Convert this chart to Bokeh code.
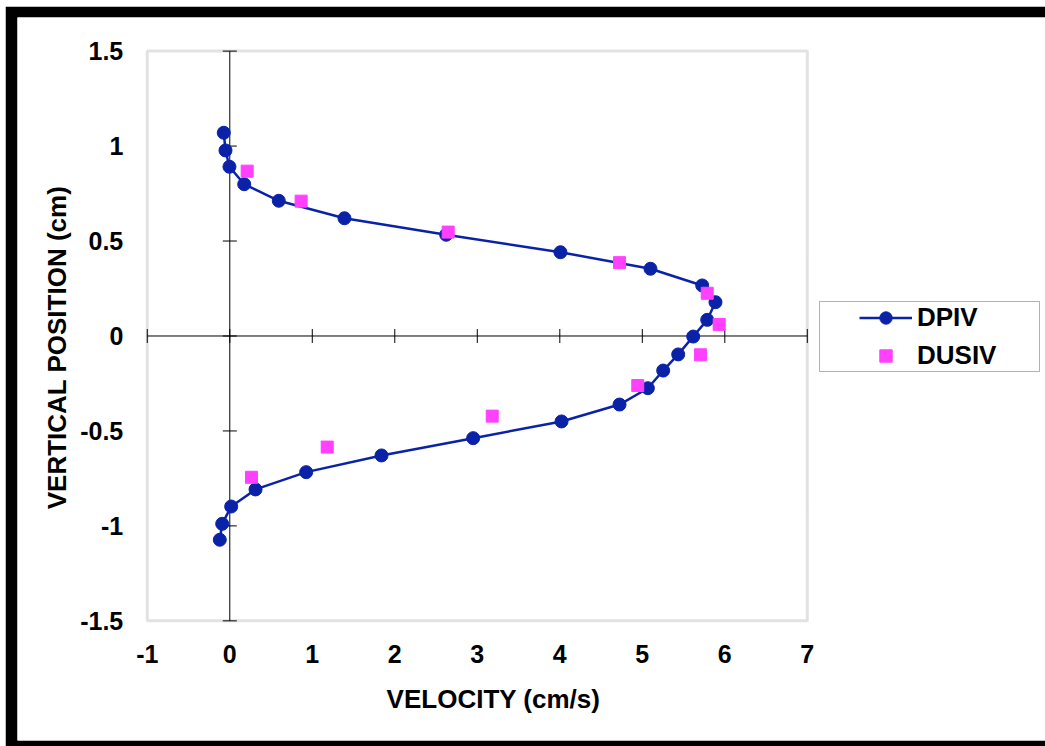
import math

from bokeh.embed import file_html
from bokeh.models import (BoxAnnotation, FixedTicker, Label, Legend, LegendItem,
                          LinearAxis, NumeralTickFormatter, Range1d)
from bokeh.plotting import figure
from bokeh.resources import INLINE

# Velocity profiles across the channel: (velocity cm/s, vertical position cm)
dpiv_velocity = [-0.073, -0.052, -0.004, 0.175, 0.594, 1.390, 2.623, 4.008, 5.099,
                 5.726, 5.887, 5.787, 5.617, 5.435, 5.253, 5.067, 4.724, 4.021,
                 2.950, 1.839, 0.926, 0.312, 0.017, -0.092, -0.121]
dpiv_position = [1.070, 0.977, 0.891, 0.799, 0.712, 0.620, 0.533, 0.441, 0.354,
                 0.266, 0.178, 0.085, -0.003, -0.097, -0.182, -0.275, -0.361,
                 -0.450, -0.538, -0.629, -0.717, -0.808, -0.898, -0.989, -1.073]

dusiv_velocity = [0.211, 0.865, 2.647, 4.724, 5.787, 5.932, 5.705, 4.945, 3.181,
                  1.181, 0.263]
dusiv_position = [0.868, 0.710, 0.547, 0.386, 0.225, 0.061, -0.099, -0.261, -0.422,
                  -0.585, -0.744]

x_ticks = [-1, 0, 1, 2, 3, 4, 5, 6, 7]
y_ticks = [-1.5, -1, -0.5, 0, 0.5, 1, 1.5]

FONT = "Liberation Sans"
BLUE = "#0A22A8"
PINK = "#FF40FF"
GRAY = "#A0A0A0"

# The frame fills the white page inside the heavy black border; the plot
# area (-1..7, -1.5..1.5) is outlined inside it.
p = figure(width=1040, height=740, margin=(6, 0, 0, 5),
           x_range=Range1d(-2.573, 9.887), y_range=Range1d(-2.130, 1.677),
           x_axis_location=None, y_axis_location=None,
           output_backend="svg", toolbar_location=None,
           min_border_left=12, min_border_right=0,
           min_border_top=11, min_border_bottom=6)

p.background_fill_color = "white"
p.border_fill_color = "black"
p.outline_line_color = None
p.grid.visible = False

# Plot-area outline
p.add_layout(BoxAnnotation(left=x_ticks[0], right=x_ticks[-1],
                           bottom=y_ticks[0], top=y_ticks[-1],
                           fill_alpha=0, line_color=GRAY, line_width=3,
                           level="underlay"))

# Tick labels along the left and bottom edges of the plot area
y_axis = LinearAxis(fixed_location=x_ticks[0], ticker=FixedTicker(ticks=y_ticks),
                    formatter=NumeralTickFormatter(format="0.[0]"))
x_axis = LinearAxis(fixed_location=y_ticks[0], ticker=FixedTicker(ticks=x_ticks),
                    formatter=NumeralTickFormatter(format="0"))
for ax in (x_axis, y_axis):
    ax.axis_line_color = None
    ax.major_tick_line_color = None
    ax.minor_tick_line_color = None
    ax.major_tick_out = 0
    ax.major_tick_in = 0
    ax.major_label_text_font = FONT
    ax.major_label_text_font_style = "bold"
    ax.major_label_text_font_size = "25px"
    ax.major_label_text_color = "black"
x_axis.major_label_standoff = 24
y_axis.major_label_standoff = 24
p.add_layout(y_axis, "left")
p.add_layout(x_axis, "below")

# Axes crossing at the origin, with tick marks across them
p.line(x=[x_ticks[0], x_ticks[-1]], y=[0, 0], line_color="black", line_width=1)
p.line(x=[0, 0], y=[y_ticks[0], y_ticks[-1]], line_color="black", line_width=1)
p.scatter(x=[0] * len(y_ticks), y=y_ticks, marker="dash", size=14,
          line_color="black", line_width=1)
p.scatter(x=x_ticks, y=[0] * len(x_ticks), marker="dash", size=14, angle=math.pi / 2,
          line_color="black", line_width=1)

line_r = p.line(dpiv_velocity, dpiv_position, line_color=BLUE, line_width=2.5)
dot_r = p.scatter(dpiv_velocity, dpiv_position, marker="circle", size=13,
                  fill_color=BLUE, line_color=BLUE)
sq_r = p.scatter(dusiv_velocity, dusiv_position, marker="square", size=12,
                 fill_color=PINK, line_color=PINK)

legend = Legend(items=[LegendItem(label="DPIV", renderers=[line_r, dot_r]),
                       LegendItem(label="DUSIV", renderers=[sq_r])],
                location=(842, 369), padding=0, spacing=7,
                glyph_width=53, glyph_height=31, label_height=30,
                label_standoff=5, border_line_color=None,
                background_fill_alpha=0,
                label_text_font=FONT, label_text_font_style="bold",
                label_text_font_size="26px", label_text_color="black")
p.add_layout(legend, "center")

# Legend frame
p.add_layout(BoxAnnotation(left=802, right=1022, top=439, bottom=369,
                           left_units="screen", right_units="screen",
                           top_units="screen", bottom_units="screen",
                           fill_alpha=0, line_color="black", line_width=1))

# Axis titles
p.add_layout(Label(x=476, y=42, x_units="screen", y_units="screen",
                   text="VELOCITY (cm/s)", text_align="center", text_baseline="middle",
                   text_font=FONT, text_font_style="bold", text_font_size="26px",
                   text_color="black"))
p.add_layout(Label(x=39, y=393, x_units="screen", y_units="screen",
                   text="VERTICAL POSITION (cm)", angle=math.pi / 2,
                   text_align="center", text_baseline="middle",
                   text_font=FONT, text_font_style="bold", text_font_size="26px",
                   text_color="black"))

open("out.html", "w").write(file_html(p, INLINE))
